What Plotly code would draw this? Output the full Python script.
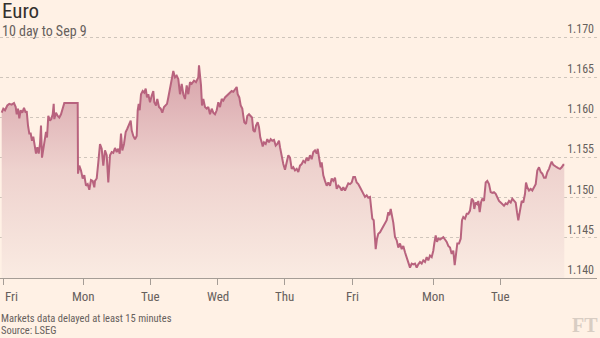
import plotly.graph_objects as go

# Euro (EUR/USD) intraday, ten trading days to Sep 9
# t: position along the compressed trading-time axis
t = [1.7, 3.3, 5.0, 7.3, 9.3, 11.7, 14.0, 15.7, 16.7, 18.0, 19.3, 20.7, 22.3, 24.0, 25.7, 26.7,
     28.0, 29.3, 30.7, 32.0, 33.3, 34.7, 36.0, 37.3, 38.7, 40.0, 41.0, 42.0, 43.3, 44.7, 46.0, 47.0,
     48.3, 50.0, 51.3, 52.7, 53.7, 54.3, 56.0, 57.7, 59.3, 61.0, 62.7, 64.3, 77.7, 78.0, 79.3, 81.0,
     82.7, 84.3, 86.0, 87.7, 89.3, 91.0, 92.7, 94.3, 95.0, 96.7, 98.3, 100.0, 101.7, 103.3, 105.0,
     106.7, 108.3, 110.0, 111.7, 113.3, 115.0, 116.7, 118.3, 119.7, 121.0, 122.3, 124.0, 125.7,
     127.3, 129.0, 130.7, 131.7, 133.3, 135.0, 136.7, 137.7, 138.7, 139.7, 141.0, 142.7, 144.3,
     145.7, 147.0, 148.3, 150.0, 151.7, 153.3, 154.3, 156.0, 157.3, 159.0, 160.7, 162.3, 164.0,
     165.7, 167.0, 168.3, 170.0, 171.7, 173.3, 175.0, 176.7, 178.3, 180.0, 181.7, 183.3, 185.0,
     186.7, 188.3, 190.0, 191.7, 194.0, 196.0, 198.3, 199.0, 201.0, 202.0, 203.3, 205.0, 206.7,
     208.3, 210.0, 211.7, 213.3, 215.0, 216.7, 218.3, 220.0, 221.7, 223.3, 225.0, 226.7, 228.3,
     230.0, 231.7, 233.3, 235.0, 236.7, 237.7, 239.3, 240.7, 242.3, 243.3, 244.3, 246.0, 247.3,
     249.0, 250.7, 252.0, 253.3, 254.7, 256.0, 257.7, 259.0, 260.3, 261.7, 262.7, 264.0, 265.7,
     267.3, 269.0, 270.7, 272.3, 274.0, 275.7, 277.3, 279.0, 280.0, 281.7, 283.3, 285.0, 286.7,
     288.3, 290.0, 291.7, 293.3, 295.0, 296.7, 298.3, 300.0, 301.7, 303.3, 305.0, 306.7, 308.3,
     310.0, 311.7, 313.3, 315.0, 316.7, 317.7, 319.3, 320.7, 321.7, 323.3, 325.0, 326.7, 328.3,
     330.0, 331.7, 333.3, 335.0, 336.7, 338.3, 340.0, 341.7, 343.3, 345.0, 346.7, 348.3, 350.0,
     351.7, 353.3, 355.0, 356.7, 358.3, 360.0, 361.7, 363.3, 365.0, 366.7, 368.3, 370.0, 371.0,
     372.3, 373.7, 374.3, 375.7, 377.0, 378.3, 380.0, 381.7, 383.3, 385.0, 386.7, 388.3, 389.3,
     390.7, 392.0, 393.3, 395.0, 396.7, 398.3, 400.0, 401.7, 403.3, 405.0, 406.7, 408.3, 410.0,
     411.7, 413.3, 415.0, 416.7, 418.3, 420.0, 421.7, 423.3, 425.0, 426.7, 428.3, 430.0, 431.7,
     433.3, 434.3, 435.7, 437.0, 438.3, 440.0, 441.7, 443.3, 445.0, 446.7, 448.3, 450.0, 451.7,
     453.3, 454.7, 456.0, 457.3, 459.0, 460.7, 462.0, 463.3, 465.0, 466.7, 468.3, 470.0, 471.7,
     473.3, 474.3, 475.7, 477.3, 478.3, 479.7, 481.0, 482.3, 484.0, 485.7, 487.3, 489.0, 490.7,
     492.3, 494.0, 495.7, 497.3, 499.0, 500.7, 502.3, 504.0, 505.7, 507.3, 509.0, 510.7, 512.3,
     514.0, 515.7, 517.0, 518.3, 520.0, 521.7, 523.3, 525.0, 526.0, 527.3, 529.0, 530.7, 532.3,
     534.0, 535.7, 537.3, 539.0, 540.7, 542.3, 544.0, 545.7, 547.3, 549.0, 550.7, 551.7, 553.3,
     555.0, 556.7, 558.3, 560.0, 561.7, 563.3, 564.3]

eurusd = [1.1606, 1.1611, 1.1609, 1.1615, 1.1617, 1.1616, 1.1618, 1.1613, 1.1604, 1.1611, 1.1599,
          1.1609, 1.1606, 1.1612, 1.1606, 1.1608, 1.1590, 1.1580, 1.1580, 1.1571, 1.1576, 1.1567,
          1.1555, 1.1563, 1.1555, 1.1567, 1.1590, 1.1550, 1.1559, 1.1573, 1.1582, 1.1575, 1.1602,
          1.1596, 1.1598, 1.1604, 1.1617, 1.1598, 1.1606, 1.1602, 1.1600, 1.1604, 1.1613, 1.1618,
          1.1618, 1.1530, 1.1540, 1.1534, 1.1524, 1.1528, 1.1515, 1.1517, 1.1510, 1.1522, 1.1521,
          1.1513, 1.1521, 1.1524, 1.1544, 1.1567, 1.1561, 1.1540, 1.1559, 1.1553, 1.1519, 1.1553,
          1.1557, 1.1556, 1.1562, 1.1557, 1.1561, 1.1555, 1.1580, 1.1559, 1.1567, 1.1582, 1.1586,
          1.1590, 1.1596, 1.1584, 1.1577, 1.1573, 1.1577, 1.1609, 1.1617, 1.1609, 1.1629, 1.1633,
          1.1631, 1.1636, 1.1625, 1.1629, 1.1619, 1.1627, 1.1633, 1.1619, 1.1615, 1.1623, 1.1613,
          1.1611, 1.1606, 1.1613, 1.1615, 1.1617, 1.1625, 1.1636, 1.1646, 1.1658, 1.1650, 1.1652,
          1.1648, 1.1629, 1.1642, 1.1629, 1.1623, 1.1640, 1.1629, 1.1644, 1.1642, 1.1646, 1.1644,
          1.1650, 1.1665, 1.1640, 1.1615, 1.1623, 1.1613, 1.1611, 1.1613, 1.1604, 1.1611, 1.1606,
          1.1604, 1.1609, 1.1619, 1.1613, 1.1623, 1.1621, 1.1625, 1.1627, 1.1628, 1.1631, 1.1633,
          1.1632, 1.1636, 1.1638, 1.1629, 1.1625, 1.1615, 1.1611, 1.1602, 1.1594, 1.1592, 1.1602,
          1.1604, 1.1602, 1.1600, 1.1584, 1.1582, 1.1590, 1.1594, 1.1588, 1.1575, 1.1569, 1.1564,
          1.1569, 1.1567, 1.1573, 1.1569, 1.1573, 1.1571, 1.1572, 1.1565, 1.1567, 1.1571, 1.1563,
          1.1550, 1.1542, 1.1535, 1.1544, 1.1553, 1.1550, 1.1536, 1.1538, 1.1534, 1.1536, 1.1532,
          1.1540, 1.1542, 1.1546, 1.1544, 1.1550, 1.1546, 1.1553, 1.1548, 1.1557, 1.1559, 1.1555,
          1.1561, 1.1548, 1.1538, 1.1544, 1.1528, 1.1521, 1.1515, 1.1519, 1.1515, 1.1524, 1.1521,
          1.1525, 1.1511, 1.1515, 1.1513, 1.1509, 1.1513, 1.1509, 1.1513, 1.1518, 1.1517, 1.1519,
          1.1526, 1.1526, 1.1519, 1.1517, 1.1513, 1.1509, 1.1505, 1.1501, 1.1503, 1.1500, 1.1501,
          1.1492, 1.1474, 1.1472, 1.1457, 1.1436, 1.1449, 1.1455, 1.1457, 1.1461, 1.1465, 1.1467,
          1.1472, 1.1482, 1.1478, 1.1486, 1.1478, 1.1469, 1.1451, 1.1447, 1.1438, 1.1443, 1.1436,
          1.1440, 1.1432, 1.1426, 1.1420, 1.1413, 1.1418, 1.1417, 1.1418, 1.1413, 1.1417, 1.1420,
          1.1418, 1.1422, 1.1420, 1.1426, 1.1422, 1.1428, 1.1426, 1.1434, 1.1443, 1.1453, 1.1445,
          1.1449, 1.1448, 1.1450, 1.1451, 1.1448, 1.1445, 1.1440, 1.1438, 1.1430, 1.1434, 1.1416,
          1.1434, 1.1443, 1.1443, 1.1449, 1.1472, 1.1476, 1.1474, 1.1480, 1.1480, 1.1484, 1.1499,
          1.1496, 1.1486, 1.1494, 1.1492, 1.1496, 1.1482, 1.1494, 1.1499, 1.1496, 1.1519, 1.1521,
          1.1517, 1.1507, 1.1506, 1.1507, 1.1505, 1.1501, 1.1496, 1.1494, 1.1492, 1.1490, 1.1493,
          1.1492, 1.1496, 1.1494, 1.1499, 1.1496, 1.1494, 1.1482, 1.1472, 1.1484, 1.1496, 1.1494,
          1.1505, 1.1519, 1.1513, 1.1509, 1.1511, 1.1509, 1.1513, 1.1517, 1.1534, 1.1538, 1.1532,
          1.1530, 1.1525, 1.1525, 1.1532, 1.1536, 1.1542, 1.1545, 1.1541, 1.1539, 1.1538, 1.1537,
          1.1536, 1.1538, 1.1541, 1.1541]

day_ticks = [3.0, 83.5, 150.6, 217.6, 284.7, 352.4, 433.3, 500.7]
day_labels = ["Fri", "Mon", "Tue", "Wed", "Thu", "Fri", "Mon", "Tue"]
y_ticks = [1.140, 1.145, 1.150, 1.155, 1.160, 1.165, 1.170]
y_labels = ["1.140", "1.145", "1.150", "1.155", "1.160", "1.165", "1.170"]
footer_lines = ["Markets data delayed at least 15 minutes", "Source: LSEG"]

BG = "#fff1e5"
LINE = "#b8637e"
GRID = "#cfc5bb"
TEXT = "#33302e"
MUTED = "#66605c"
FONT = "Liberation Sans Narrow, Roboto Condensed, Arial Narrow, Roboto, sans-serif"

fig = go.Figure()
fig.add_trace(go.Scatter(
    x=t, y=eurusd, mode="lines",
    line=dict(color=LINE, width=2),
    fill="tozeroy",
    fillgradient=dict(
        type="vertical",
        colorscale=[[0, "rgb(250,235,226)"], [0.5, "rgb(238,210,206)"],
                    [1, "rgb(214,160,168)"]],
        start=1.140, stop=1.167,
    ),
    hoverinfo="skip",
))

fig.update_layout(
    width=600, height=338,
    margin=dict(l=0, r=3, t=22, b=60),
    paper_bgcolor=BG, plot_bgcolor=BG,
    showlegend=False,
    font=dict(family=FONT, color=MUTED, size=12),
    xaxis=dict(
        range=[0, 597], showgrid=False, zeroline=False,
        showline=True, linecolor="#a59d96", linewidth=1,
        tickmode="array", tickvals=day_ticks, ticks="outside",
        ticklen=6, tickcolor="#a59d96", showticklabels=False,
        fixedrange=True,
    ),
    yaxis=dict(
        range=[1.140, 1.1719], side="right",
        tickmode="array", tickvals=y_ticks, ticktext=y_labels,
        ticklabelposition="inside top", ticks="",
        tickfont=dict(size=12, color=MUTED, family=FONT),
        showgrid=True, gridcolor=GRID, griddash="3px,3px", gridwidth=1,
        zeroline=False, showline=False, fixedrange=True,
    ),
)

# weekday labels centred under their ticks (first one kept inside the frame)
for i, (pos, lab) in enumerate(zip(day_ticks, day_labels)):
    fig.add_annotation(
        x=pos, xref="x", y=0, yref="paper", yanchor="top", yshift=-9,
        xanchor="left" if i == 0 else "center",
        text=lab, showarrow=False,
        font=dict(size=13, color=MUTED, family=FONT),
    )

# title block
fig.add_annotation(x=0, xref="paper", xanchor="left", y=1, yref="paper", yanchor="bottom",
                   yshift=-3, text="Euro", showarrow=False,
                   font=dict(size=21, color=TEXT, family=FONT))
fig.add_annotation(x=0, xref="paper", xanchor="left", y=1, yref="paper", yanchor="bottom",
                   yshift=-19, text="10 day to Sep 9", showarrow=False,
                   font=dict(size=14, color=MUTED, family=FONT))

# footer, one annotation per line
for k, line in enumerate(footer_lines):
    fig.add_annotation(x=0, xref="paper", xanchor="left", y=0, yref="paper", yanchor="top",
                       yshift=-33 - 12 * k, borderpad=0, text=line, showarrow=False,
                       font=dict(size=10.5, color=MUTED, family=FONT))

fig.add_annotation(x=1, xref="paper", xanchor="right", xshift=2, y=0, yref="paper",
                   yanchor="top", yshift=-35, borderpad=0, text="<b>FT</b>", showarrow=False,
                   font=dict(size=20, color="#d8cdc3", family="Liberation Serif, DejaVu Serif, serif"))

fig.write_html("out.html", config={"displayModeBar": False, "staticPlot": True})
